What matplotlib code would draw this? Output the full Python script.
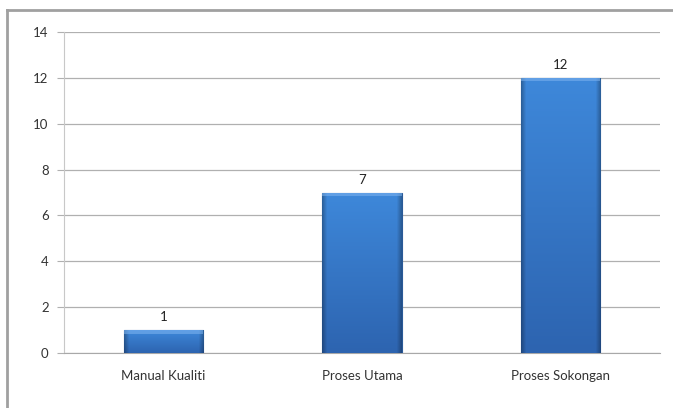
import matplotlib
matplotlib.use("Agg")
import matplotlib.pyplot as plt
import numpy as np
from matplotlib.lines import Line2D

categories = ["Manual Kualiti", "Proses Utama", "Proses Sokongan"]
values = [1, 7, 12]
yticks = [0, 2, 4, 6, 8, 10, 12, 14]

plt.rcParams['font.family'] = ['Lato', 'DejaVu Sans']

fig = plt.figure(figsize=(6.73, 4.08), dpi=100)
fig.patch.set_facecolor('white')
ax = fig.add_axes([64/673, 1-353/408, (660-64)/673, (353-32)/408])

x = np.arange(len(categories))
bars = ax.bar(x, values, width=0.4, color='#3677c8', edgecolor='#2a5a98', linewidth=0.8, zorder=3)

top_c = np.array([0x3e, 0x88, 0xda]) / 255.0
bot_c = np.array([0x2d, 0x64, 0xb0]) / 255.0
for b in bars:
    x0, w, h = b.get_x(), b.get_width(), b.get_height()
    ny, nx = 100, 80
    t = np.linspace(0, 1, ny)[:, None, None]          # 0 top -> 1 bottom
    img = top_c * (1 - t) + bot_c * t
    img = np.repeat(img, nx, axis=1)
    xs = np.linspace(0, 1, nx)
    edge = np.clip(np.minimum(xs, 1 - xs) / 0.06, 0, 1)
    img = img * (0.72 + 0.28 * edge)[None, :, None]
    im = ax.imshow(img, aspect='auto', extent=[x0, x0 + w, 0, h], zorder=3.5,
                   interpolation='bilinear')
    im.set_clip_path(b)
    # light bevel at the top
    ax.fill_between([x0, x0 + w], h - 0.15, h, color='#7fb4ef', alpha=0.55, zorder=4, linewidth=0)
    ax.annotate(str(int(h)), (x0 + w / 2, h), xytext=(0, 5), textcoords='offset points',
                ha='center', va='bottom', fontsize=9.5, color='#222222', zorder=5)

ax.set_xlim(-0.5, len(categories) - 0.5)
ax.set_ylim(0, 14)
ax.set_yticks(yticks)
ax.set_yticklabels([str(t) for t in yticks], fontsize=9.5, color='#333333')
ax.set_xticks(x)
ax.set_xticklabels(categories, fontsize=9.5, color='#333333')
ax.grid(axis='y', color='#b0b0b0', linewidth=0.9, zorder=0)
ax.set_axisbelow(True)
for s in ['top', 'right']:
    ax.spines[s].set_visible(False)
ax.spines['left'].set_color('#c8c8c8')
ax.spines['bottom'].set_color('#a8a8a8')
ax.tick_params(axis='y', length=5, color='#b0b0b0', pad=6)
ax.tick_params(axis='x', length=0, pad=12)

# outer chart frame (left and top edges)
fig.add_artist(Line2D([7/673, 7/673], [0, 1-10/408], transform=fig.transFigure, color='#a0a0a0', linewidth=2))
fig.add_artist(Line2D([7/673, 1], [1-10/408, 1-10/408], transform=fig.transFigure, color='#a0a0a0', linewidth=2))

fig.savefig('out.png', dpi=100)
